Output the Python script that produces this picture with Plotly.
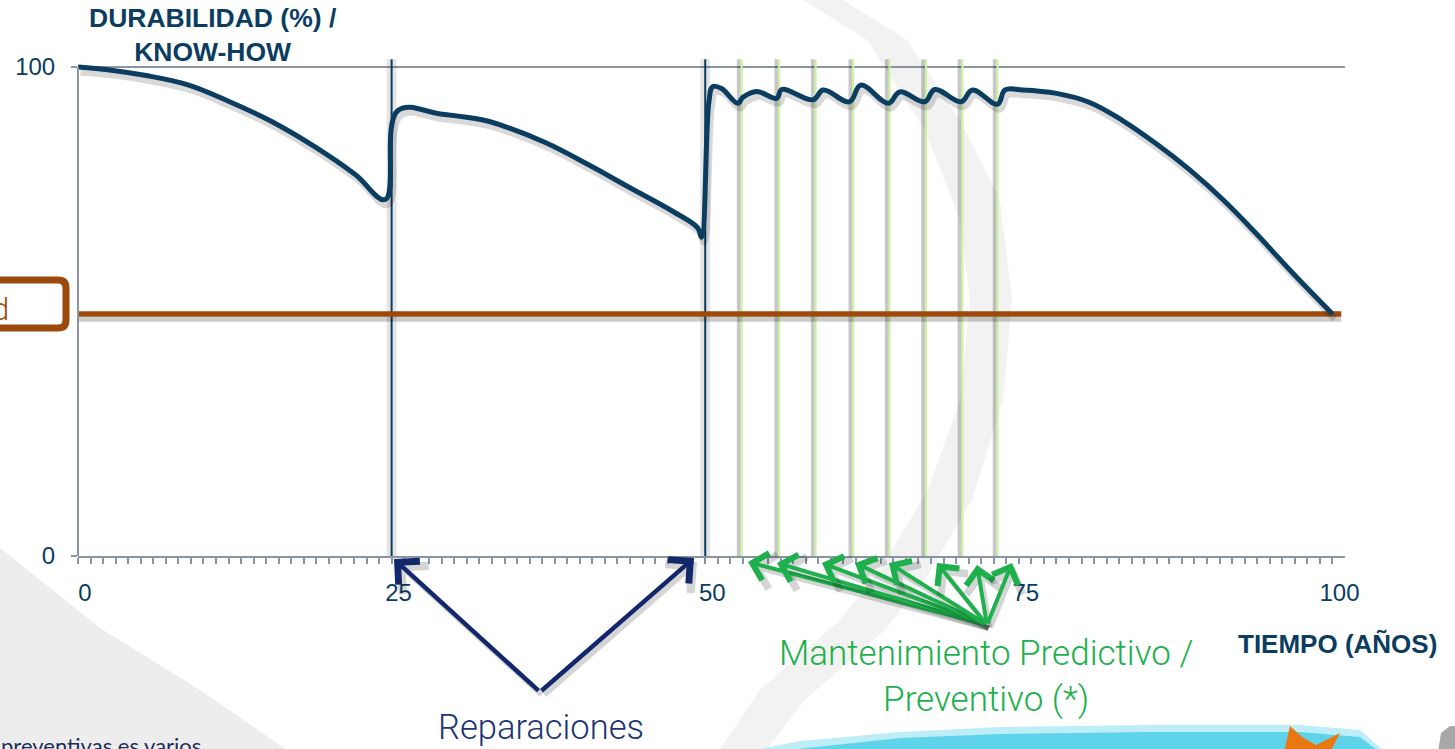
import numpy as np
import plotly.graph_objects as go

# ---- data -------------------------------------------------------------
years = [0, 2.5, 5.3, 8.7, 12.0, 15.4, 18.8, 22.1, 24.5,
         25.5, 28.9, 32.2, 34.3, 37.3, 40.7, 44.0, 47.4, 49.4, 49.7,
         50.3, 50.6, 51.3, 52.6, 53.0, 54.1, 55.7, 56.1, 58.6, 59.4, 61.5, 62.4, 64.6,
         65.5, 67.5, 68.3, 70.4, 71.3, 73.3, 73.9, 75.3, 78.0, 80.6, 83.3, 85.9, 88.6,
         91.3, 93.9, 96.6, 100.0]
durability = [100, 99.4, 98.3, 96.4, 93.0, 88.9, 83.8, 78.0, 72.9,
              91.1, 90.4, 89.2, 87.6, 84.5, 80.0, 75.3, 70.5, 67.1, 65.2,
              93.0, 96.0, 95.6, 92.6, 93.8, 95.0, 93.6, 95.4, 93.3, 95.3, 92.9, 96.3, 92.6,
              94.9, 92.9, 95.4, 92.9, 95.3, 92.4, 95.3, 95.3, 94.6, 92.8, 89.0, 84.4, 79.0,
              72.8, 66.0, 58.5, 49.5]

repair_years = [25, 50]
maintenance_years = [52.9, 55.9, 58.8, 61.8, 64.7, 67.6, 70.5, 73.3]
threshold = 49.5
threshold_span = [0, 100.7]
marker_top = 101.6

x_tick_values = list(range(0, 101))
x_tick_labels = [str(v) if v % 25 == 0 else "" for v in x_tick_values]
y_tick_values = [0, 100]
y_tick_labels = ["0", "100"]

# ---- colours / fonts ----------------------------------------------------
NAVY = "#0b3d61"
ARROW_NAVY = "#13286b"
BROWN = "#9c4a0c"
GREEN = "#1db04c"
LIGHT_GREEN = "#cbf59c"
AXIS_GRAY = "#8a95a3"
SANS = "Liberation Sans, Arial, sans-serif"
LIGHT = "Roboto, Lato, sans-serif"

W, H = 1455, 749
L, R, T, B = 78, 1345, 55, 556          # plot area in pixels
Y_TOP = (B - T) / 4.89                    # y value at top of plot area
X_TOP = 101.0


def pxx(xp):
    return (xp - L) / (R - L)


def pxy(yp):
    return (B - yp) / (B - T)


def poly(points):
    return "M " + " L ".join(f"{pxx(x):.4f},{pxy(y):.4f}" for x, y in points) + " Z"


fig = go.Figure()


def vlines(xs, top):
    xx, yy = [], []
    for v in xs:
        xx += [v, v, None]
        yy += [0, top, None]
    return xx, yy


# vertical markers: repairs
rx, ry = vlines(repair_years, marker_top)
fig.add_trace(go.Scatter(x=rx, y=ry, mode="lines", line=dict(color="rgba(0,0,0,0.10)", width=10),
                         hoverinfo="skip", showlegend=False))
fig.add_trace(go.Scatter(x=rx, y=ry, mode="lines", line=dict(color=NAVY, width=2),
                         hoverinfo="skip", showlegend=False))

# vertical markers: predictive / preventive maintenance
mx, my = vlines(maintenance_years, marker_top)
msx = [v - 0.22 if v is not None else None for v in mx]
fig.add_trace(go.Scatter(x=msx, y=my, mode="lines", line=dict(color="rgba(0,0,0,0.22)", width=4),
                         hoverinfo="skip", showlegend=False))
fig.add_trace(go.Scatter(x=mx, y=my, mode="lines", line=dict(color=LIGHT_GREEN, width=2),
                         hoverinfo="skip", showlegend=False))

# threshold line
fig.add_trace(go.Scatter(x=threshold_span, y=[threshold - 1.1] * 2, mode="lines",
                         line=dict(color="rgba(0,0,0,0.20)", width=5), hoverinfo="skip", showlegend=False))
fig.add_trace(go.Scatter(x=threshold_span, y=[threshold] * 2, mode="lines",
                         line=dict(color=BROWN, width=5.5), hoverinfo="skip", showlegend=False))

# durability curve with soft drop shadow
fig.add_trace(go.Scatter(x=[v + 0.2 for v in years], y=[v - 1.0 for v in durability], mode="lines",
                         line=dict(color="rgba(0,0,0,0.15)", width=7, shape="spline", smoothing=1.1),
                         hoverinfo="skip", showlegend=False))
fig.add_trace(go.Scatter(x=years, y=durability, mode="lines",
                         line=dict(color=NAVY, width=5, shape="spline", smoothing=1.1),
                         showlegend=False))

# ---- background decoration ----------------------------------------------
shapes = []
swoosh_outer = [(835, -5), (907, 40), (960, 120), (1000, 200), (1012, 300), (1003, 400),
                (972, 500), (925, 580), (885, 630), (805, 700), (765, 752)]
swoosh_inner = [(718, 752), (760, 690), (840, 620), (880, 570), (928, 490), (960, 400),
                (970, 300), (960, 220), (925, 130), (867, 40), (795, -5)]
shapes.append(dict(type="path", xref="paper", yref="paper", path=poly(swoosh_outer + swoosh_inner),
                   fillcolor="rgba(0,0,0,0.05)", line=dict(width=0), layer="below"))

corner = [(0, 548), (100, 628), (200, 690), (290, 752), (0, 752)]
shapes.append(dict(type="path", xref="paper", yref="paper", path=poly(corner),
                   fillcolor="#ededed", line=dict(width=0), layer="below"))

# y axis line
shapes.append(dict(type="line", xref="paper", yref="y", x0=0, x1=0, y0=0, y1=100,
                   line=dict(color=AXIS_GRAY, width=2)))

# rounded label box on the left
bx0, bx1, by0, by1, rr = -20, 66, 280, 328, 8
box = (f"M {pxx(bx0)},{pxy(by0)} L {pxx(bx1 - rr)},{pxy(by0)} "
       f"Q {pxx(bx1)},{pxy(by0)} {pxx(bx1)},{pxy(by0 + rr)} "
       f"L {pxx(bx1)},{pxy(by1 - rr)} Q {pxx(bx1)},{pxy(by1)} {pxx(bx1 - rr)},{pxy(by1)} "
       f"L {pxx(bx0)},{pxy(by1)}")
shapes.append(dict(type="path", xref="paper", yref="paper", path=box,
                   line=dict(color=BROWN, width=7)))

# logos strip along the bottom
wave = [(745, 752), (800, 741), (900, 732), (1000, 727), (1150, 725), (1300, 725), (1360, 730), (1385, 752)]
shapes.append(dict(type="path", xref="paper", yref="paper", path=poly(wave),
                   fillcolor="#bdeef7", line=dict(width=0)))
wave2 = [(770, 752), (900, 738), (1000, 734), (1150, 732), (1300, 732), (1360, 737), (1380, 752)]
shapes.append(dict(type="path", xref="paper", yref="paper", path=poly(wave2),
                   fillcolor="#5fd3ea", line=dict(width=0)))
fish = [(1284, 752), (1290, 726), (1302, 737), (1316, 745), (1340, 733), (1330, 752)]
shapes.append(dict(type="path", xref="paper", yref="paper", path=poly(fish),
                   fillcolor="#e8780f", line=dict(width=0)))
blob = [(1438, 752), (1441, 733), (1450, 726), (1458, 726), (1458, 752)]
shapes.append(dict(type="path", xref="paper", yref="paper", path=poly(blob),
                   fillcolor="#a8a8a8", line=dict(width=0)))

# ---- annotations ---------------------------------------------------------
ann = []


def text(s, x, y, size, color, family=SANS, weight=None, xanchor="center", align="center"):
    f = dict(size=size, color=color, family=family)
    if weight:
        f["weight"] = weight
    ann.append(dict(text=s, x=pxx(x), y=pxy(y), xref="paper", yref="paper", showarrow=False,
                    xanchor=xanchor, yanchor="middle", align=align, font=f))


def arrow(head, tail, color, width, shadow=True):
    if shadow:
        ann.append(dict(x=pxx(head[0] + 3), y=pxy(head[1] + 4), xref="paper", yref="paper",
                        ax=tail[0] - head[0], ay=tail[1] - head[1], axref="pixel", ayref="pixel",
                        showarrow=True, arrowhead=4, arrowsize=1.35, arrowwidth=width + 1,
                        arrowcolor="rgba(0,0,0,0.16)", text=""))
    ann.append(dict(x=pxx(head[0]), y=pxy(head[1]), xref="paper", yref="paper",
                    ax=tail[0] - head[0], ay=tail[1] - head[1], axref="pixel", ayref="pixel",
                    showarrow=True, arrowhead=4, arrowsize=1.35, arrowwidth=width,
                    arrowcolor=color, text=""))


text("<b>DURABILIDAD (%) /<br>KNOW-HOW</b>", 213, 35, 26.5, NAVY)
text("<b>TIEMPO (AÑOS)</b>", 1337, 644, 26, NAVY)
text("Mantenimiento Predictivo /<br>Preventivo (*)", 986, 676, 35, GREEN, LIGHT, 300)
text("Reparaciones", 541, 727, 34.5, "#1d3576", LIGHT, 300)
text("d", 11, 309, 31, BROWN, LIGHT, 300, xanchor="right")
text("preventivas es varios", 203, 745, 22, "#1b2d5c", "Lato, sans-serif", xanchor="right")

repair_tail = (540, 692)
for head in [(394, 559), (694, 558)]:
    arrow(head, repair_tail, ARROW_NAVY, 4.5)

maint_tail = (987, 625)
for head in [(748, 562), (777, 563), (822, 563), (855, 563), (889, 563), (937, 563), (977, 565), (1012, 563)]:
    arrow(head, maint_tail, GREEN, 4)

fig.update_layout(
    width=W, height=H,
    margin=dict(l=L, r=W - R, t=T, b=H - B),
    paper_bgcolor="white", plot_bgcolor="rgba(0,0,0,0)",
    shapes=shapes, annotations=ann, showlegend=False,
    xaxis=dict(range=[0, X_TOP], tickmode="array", tickvals=x_tick_values, ticktext=x_tick_labels,
               ticks="outside", ticklen=6, tickwidth=2, tickcolor=AXIS_GRAY,
               showline=True, linecolor=AXIS_GRAY, linewidth=2, showgrid=False, zeroline=False,
               ticklabelshift=7, ticklabelstandoff=8,
               tickfont=dict(family=SANS, size=24, color=NAVY)),
    yaxis=dict(range=[0, Y_TOP], tickmode="array", tickvals=y_tick_values, ticktext=y_tick_labels,
               ticks="outside", ticklen=6, tickwidth=2, tickcolor=AXIS_GRAY,
               showline=False, showgrid=True, gridcolor=AXIS_GRAY, gridwidth=2, zeroline=False,
               ticklabelstandoff=11,
               tickfont=dict(family=SANS, size=24, color=NAVY)),
)

fig.write_html("out.html")
